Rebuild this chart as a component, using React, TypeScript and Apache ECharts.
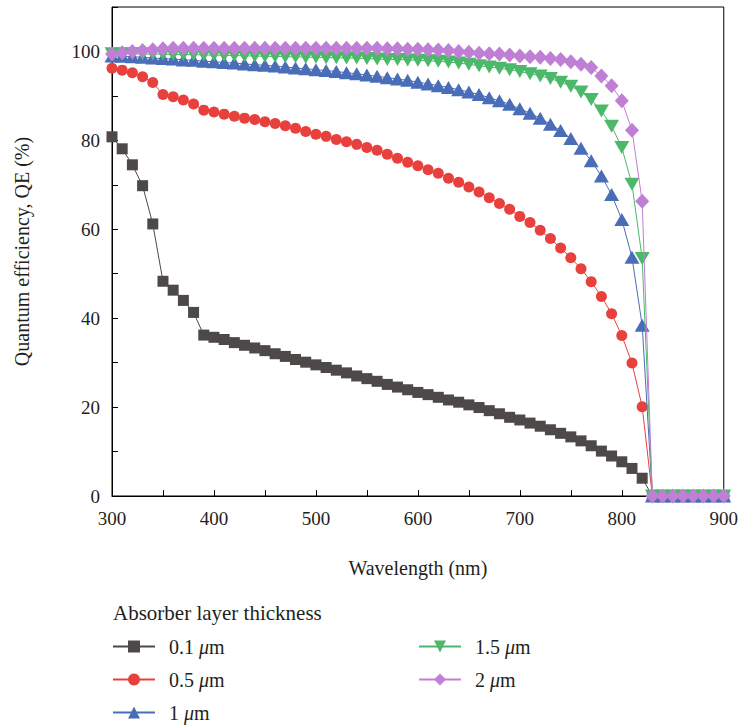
import React, { useEffect, useRef } from "react";
import * as echarts from "echarts";

const wavelengths = [
  300, 310, 320, 330, 340, 350, 360, 370, 380, 390,
  400, 410, 420, 430, 440, 450, 460, 470, 480, 490,
  500, 510, 520, 530, 540, 550, 560, 570, 580, 590,
  600, 610, 620, 630, 640, 650, 660, 670, 680, 690,
  700, 710, 720, 730, 740, 750, 760, 770, 780, 790,
  800, 810, 820, 830, 840, 850, 860, 870, 880, 890, 900,
];

const qe01 = [
  80.8, 78.1, 74.5, 69.8, 61.2, 48.3, 46.3, 44.0, 41.3, 36.2,
  35.7, 35.2, 34.5, 33.9, 33.3, 32.7, 32.0, 31.4, 30.7, 30.1,
  29.5, 28.9, 28.3, 27.7, 27.0, 26.4, 25.8, 25.1, 24.5, 23.9,
  23.3, 22.8, 22.2, 21.6, 21.1, 20.5, 19.9, 19.2, 18.5, 17.7,
  17.1, 16.4, 15.7, 14.9, 14.1, 13.3, 12.4, 11.3, 10.1, 9.0,
  7.7, 6.2, 4.0, 0, 0, 0, 0, 0, 0, 0, 0,
];

const qe05 = [
  96.2, 95.8, 95.2, 94.3, 93.0, 90.3, 89.8, 89.1, 88.2, 86.8,
  86.4, 85.9, 85.4, 85.0, 84.7, 84.2, 83.8, 83.3, 82.7, 82.0,
  81.4, 80.9, 80.2, 79.7, 79.1, 78.4, 77.8, 76.9, 76.0, 75.1,
  74.3, 73.4, 72.6, 71.5, 70.6, 69.5, 68.4, 67.1, 65.8, 64.5,
  62.9, 61.5, 59.8, 57.9, 55.8, 53.6, 51.1, 48.2, 44.9, 41.0,
  36.1, 29.9, 20.1, 0, 0, 0, 0, 0, 0, 0, 0,
];

const qe1 = [
  99.0, 98.9, 98.8, 98.7, 98.5, 98.4, 98.3, 98.1, 98.0, 97.8,
  97.7, 97.5, 97.4, 97.2, 97.0, 96.9, 96.7, 96.5, 96.3, 96.1,
  95.9, 95.7, 95.5, 95.2, 95.0, 94.7, 94.4, 94.1, 93.8, 93.5,
  93.1, 92.7, 92.3, 91.9, 91.4, 90.9, 90.3, 89.6, 88.9, 88.1,
  87.1, 86.1, 85.0, 83.6, 82.2, 80.4, 78.2, 75.4, 72.0, 67.8,
  62.2, 53.7, 38.4, 0, 0, 0, 0, 0, 0, 0, 0,
];

const qe15 = [
  99.5, 99.5, 99.5, 99.4, 99.4, 99.4, 99.3, 99.3, 99.3, 99.2,
  99.2, 99.1, 99.1, 99.0, 99.0, 98.9, 98.9, 98.8, 98.8, 98.7,
  98.7, 98.6, 98.6, 98.5, 98.5, 98.4, 98.3, 98.2, 98.2, 98.1,
  98.0, 97.9, 97.8, 97.6, 97.4, 97.1, 96.8, 96.5, 96.2, 95.9,
  95.5, 95.0, 94.5, 93.9, 93.1, 92.2, 90.9, 89.2, 86.6, 83.2,
  78.4, 70.1, 53.4, 0, 0, 0, 0, 0, 0, 0, 0,
];

const qe2 = [
  99.4, 99.7, 100.0, 100.2, 100.4, 100.6, 100.7, 100.7, 100.7, 100.7,
  100.7, 100.7, 100.7, 100.7, 100.7, 100.7, 100.7, 100.7, 100.7, 100.7,
  100.7, 100.7, 100.7, 100.7, 100.7, 100.7, 100.7, 100.6, 100.6, 100.5,
  100.5, 100.4, 100.3, 100.2, 100.0, 99.8, 99.6, 99.5, 99.4, 99.2,
  99.0, 98.8, 98.7, 98.4, 98.2, 97.7, 97.1, 96.4, 94.5, 92.3,
  88.9, 82.3, 66.3, 0, 0, 0, 0, 0, 0, 0, 0,
];

const seriesNames = ["0.1 μm", "0.5 μm", "1 μm", "1.5 μm", "2 μm"];
const xLabelTicks = [300, 400, 500, 600, 700, 800, 900];
const yLabelTicks = [0, 20, 40, 60, 80, 100];

const FONT = "Liberation Serif";
const TEXT = "#231f20";

export default function App() {
  const ref = useRef<HTMLDivElement>(null);

  useEffect(() => {
    if (!ref.current) return;
    const chart = echarts.init(ref.current, null, { renderer: "svg" });
    const values = [qe01, qe05, qe1, qe15, qe2];
    const colors = ["#4d4948", "#e8413d", "#4a6db8", "#4cb86a", "#bf7fd4"];
    const symbols = ["rect", "circle", "triangle", "triangle", "diamond"];
    const sizes: any[] = [11, 11, [15, 13], [15, 13], [14, 15]];
    const rotates = [0, 0, 0, 180, 0];

    const series = seriesNames.map((name, k) => ({
      name,
      type: "line",
      data: wavelengths.map((w, i) => [w, values[k][i]]),
      symbol: symbols[k],
      symbolSize: sizes[k],
      symbolRotate: rotates[k],
      showAllSymbol: true,
      lineStyle: { color: colors[k], width: 1 },
      itemStyle: { color: colors[k] },
      emphasis: { disabled: true },
      z: 2 + k,
    }));

    const legendText = {
      fontFamily: FONT,
      fontSize: 20,
      lineHeight: 15,
      color: TEXT,
      padding: [0, 0, 0, 9],
      rich: {
        i: {
          fontFamily: FONT,
          fontSize: 20,
          lineHeight: 15,
          fontStyle: "italic",
          color: TEXT,
        },
      },
    };
    const legendFormatter = (n: string) => n.replace("μm", "{i|μ}m");

    const axisCommon = {
      axisLine: { lineStyle: { color: "#000", width: 1 } },
      axisTick: { inside: true, length: 6, lineStyle: { color: "#000" } },
      splitLine: { show: false },
      nameTextStyle: { fontFamily: FONT, fontSize: 20, color: TEXT },
    };

    // legend slots: [left, row-center y]
    const legendPos = [
      [112, 647],
      [112, 680],
      [112, 713],
      [418, 647],
      [418, 680],
    ];
    const legends = seriesNames.map((name, k) => ({
      data: [name],
      orient: "vertical",
      left: legendPos[k][0],
      top: legendPos[k][1] - 10.5,
      padding: 0,
      itemWidth: 42,
      itemHeight: 15,
      formatter: legendFormatter,
      textStyle: legendText,
      selectedMode: false,
    }));

    chart.setOption({
      animation: false,
      backgroundColor: "#fff",
      grid: {
        left: 112,
        right: 16,
        top: 7,
        bottom: 231,
        show: true,
        borderColor: "#000",
        borderWidth: 1,
        backgroundColor: "transparent",
      },
      xAxis: {
        type: "value",
        min: 300,
        max: 900,
        interval: 50,
        name: "Wavelength (nm)",
        nameLocation: "middle",
        nameGap: 62,
        ...axisCommon,
        axisLabel: {
          margin: 13,
          fontFamily: FONT,
          fontSize: 19,
          color: TEXT,
          formatter: (v: number) => (xLabelTicks.includes(v) ? String(v) : ""),
        },
      },
      yAxis: {
        type: "value",
        min: 0,
        max: 110,
        interval: 10,
        name: "Quantum efficiency, QE (%)",
        nameLocation: "middle",
        nameGap: 80,
        ...axisCommon,
        axisLabel: {
          margin: 12,
          fontFamily: FONT,
          fontSize: 19,
          color: TEXT,
          formatter: (v: number) => (yLabelTicks.includes(v) ? String(v) : ""),
        },
      },
      legend: legends,
      graphic: [
        {
          type: "text",
          left: 113,
          top: 602,
          style: {
            text: "Absorber layer thickness",
            fontFamily: FONT,
            fontSize: 21,
            fill: TEXT,
          },
        },
      ],
      series,
    });
    return () => chart.dispose();
  }, []);

  return (
    <div
      ref={ref}
      style={{ position: "fixed", left: 0, top: 0, width: 741, height: 727 }}
    />
  );
}
